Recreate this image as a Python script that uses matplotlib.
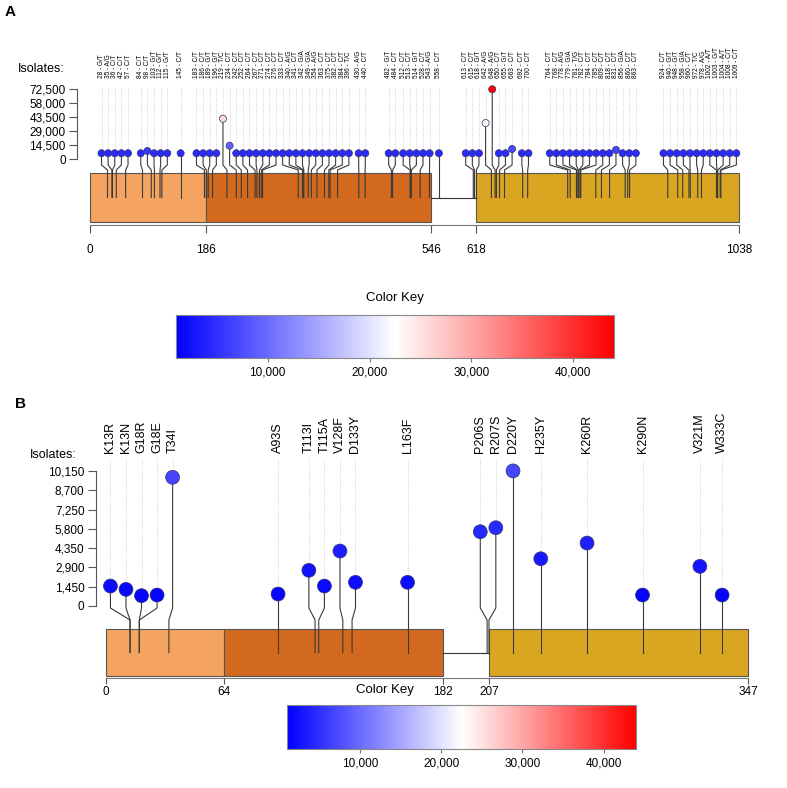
import numpy as np
import matplotlib
matplotlib.use("Agg")
import matplotlib.pyplot as plt
from matplotlib.patches import Rectangle
from matplotlib.colors import Normalize
from matplotlib.cm import ScalarMappable

plt.rcParams['font.family'] = ['Liberation Sans', 'DejaVu Sans']

# ---- panel A data (nucleotide changes) ----
a_labels = ["28 - G/T", "35 - A/G", "36 - C/T", "42 - C/T", "57 - C/T", "84 - C/T", "98 - C/T",
            "103 - G/T", "112 - G/T", "115 - G/T", "145 - C/T", "183 - C/T", "186 - C/T", "189 - G/T",
            "196 - G/T", "219 - T/C", "234 - C/T", "242 - C/T", "252 - C/T", "264 - C/T", "267 - C/T",
            "271 - C/T", "274 - C/T", "276 - C/T", "333 - C/T", "340 - A/G", "341 - C/T", "342 - G/A",
            "349 - G/A", "354 - A/G", "363 - C/T", "375 - C/T", "382 - C/T", "384 - C/T", "396 - T/C",
            "430 - A/G", "440 - C/T", "482 - G/T", "484 - C/T", "512 - C/T", "513 - C/T", "514 - G/T",
            "528 - C/T", "543 - A/G", "558 - C/T", "613 - C/T", "615 - C/T", "618 - G/T", "642 - A/G",
            "648 - A/G", "650 - C/T", "655 - G/T", "663 - C/T", "692 - C/T", "700 - C/T", "764 - C/T",
            "768 - C/T", "778 - A/G", "779 - G/A", "781 - T/G", "782 - C/T", "784 - C/T", "785 - C/T",
            "809 - C/T", "818 - C/T", "831 - C/T", "856 - G/A", "860 - C/T", "863 - C/T", "924 - C/T",
            "940 - G/T", "948 - G/T", "958 - G/A", "960 - C/T", "972 - T/C", "978 - A/G", "1002 - A/T",
            "1003 - G/T", "1004 - A/T", "1008 - C/T", "1009 - C/T"]
a_isolates = [6000, 6000, 6000, 6000, 6000, 6000, 8300, 6000, 6000, 6000,
              6000, 6000, 6000, 6000, 6000, 41900, 13800, 6000, 6000, 6000,
              6000, 6000, 6000, 6000, 6000, 6000, 6000, 6000, 6000, 6000,
              6000, 6000, 6000, 6000, 6000, 6000, 6000, 6000, 6000, 6000,
              6000, 6000, 6000, 6000, 6000, 6000, 6000, 6000, 37400, 72500,
              6000, 6000, 10400, 6000, 6000, 6000, 6000, 6000, 6000, 6000,
              6000, 6000, 6000, 6000, 6000, 9400, 6000, 6000, 6000, 6000,
              6000, 6000, 6000, 6000, 6000, 6000, 6000, 6000, 6000, 6000,
              6000]
a_domains = [(0, 186), (186, 546), (618, 1038)]
a_length = 1038
a_yticks = [0, 14500, 29000, 43500, 58000, 72500]

# ---- panel B data (amino acid changes) ----
b_labels = ["K13R", "K13N", "G18R", "G18E", "T34I", "A93S", "T113I", "T115A", "V128F", "D133Y",
            "L163F", "P206S", "R207S", "D220Y", "H235Y", "K260R", "K290N", "V321M", "W333C"]
b_isolates = [1500, 1250, 775, 825, 9670, 900, 2680, 1500, 4130, 1780,
              1780, 5580, 5880, 10150, 3550, 4730, 825, 2980, 825]
b_domains = [(0, 64), (64, 182), (207, 347)]
b_length = 347
b_yticks = [0, 1450, 2900, 4350, 5800, 7250, 8700, 10150]

domain_colors = ['#F4A460', '#D2691E', '#DAA520']
key_ticks = [10000, 20000, 30000, 40000]

W, H = 787, 788
cmap = plt.get_cmap('bwr')
dot_norm = Normalize(0, 72500)
key_norm = Normalize(1000, 44000)


def spread(pos, gap, lo, hi):
    # push overlapping dots apart, each group centred on its mean position
    blocks = [[p] for p in pos]

    def start(b):
        s = np.mean(b) - (len(b) - 1) * gap / 2
        return min(max(s, lo), hi - (len(b) - 1) * gap)

    merged = True
    while merged:
        merged = False
        for i in range(len(blocks) - 1):
            end0 = start(blocks[i]) + (len(blocks[i]) - 1) * gap
            if start(blocks[i + 1]) - end0 < gap - 1e-9:
                blocks[i] = blocks[i] + blocks.pop(i + 1)
                merged = True
                break
    out = []
    for b in blocks:
        s = start(b)
        out += [s + k * gap for k in range(len(b))]
    return np.array(out)


def panel(top, bottom, x0, xscale, y0, upp, pos, vals, labels, domains, length, yticks,
          gap, dot_s, lab_fs, g):
    # top/bottom: axes extent in px; x0: px of residue 0; xscale: px per residue
    # y0: px of zero isolates; upp: isolates per px; g: layout offsets in px
    ax = fig.add_axes([0, 1 - bottom / H, 1, (bottom - top) / H])
    ax.set_xlim(-x0 / xscale, (W - x0) / xscale)
    ax.set_ylim(-(bottom - y0) * upp, (y0 - top) * upp)
    ax.patch.set_alpha(0)

    xd = spread(pos, gap, 0, length)
    for xs, p, v, lab in zip(xd, pos, vals, labels):
        ax.plot([xs, xs, p, p], [v, -g['bend0'] * upp, -g['bend1'] * upp, -g['mid'] * upp],
                color='#3a3a3a', lw=0.8, zorder=3)
        ax.plot([xs, xs], [v, (y0 - g['guide']) * upp], ls=':', color='#c4c4c4', lw=0.6, zorder=1)
        ax.text(xs, (y0 - g['label']) * upp, lab, rotation=90, ha='center', va='bottom',
                fontsize=lab_fs)
    ax.scatter(xd, vals, s=dot_s, c=cmap(dot_norm(np.array(vals))), edgecolors='#333366',
               linewidths=0.5, zorder=5)

    for (s, e), c in zip(domains, domain_colors):
        ax.add_patch(Rectangle((s, -g['box_bot'] * upp), e - s, (g['box_bot'] - g['box_top']) * upp,
                               fc=c, ec='#555555', lw=0.8, zorder=2))
    for (s0, e0), (s1, e1) in zip(domains[:-1], domains[1:]):
        if s1 > e0:
            ax.plot([e0, s1], [-g['mid'] * upp] * 2, color='#333333', lw=0.8, zorder=2)

    for side in ['top', 'right']:
        ax.spines[side].set_visible(False)
    ax.spines['left'].set_position(('data', g['yaxis']))
    ax.spines['left'].set_bounds(0, yticks[-1])
    ax.spines['left'].set_color('#555555')
    ax.set_yticks(yticks)
    ax.set_yticklabels([f"{t:,}" for t in yticks])
    ax.tick_params(axis='y', length=6, width=0.8, color='#555555', pad=g['ypad'], labelsize=8.5)

    ticks = sorted(set([d for dom in domains for d in dom]))
    ax.spines['bottom'].set_position(('data', -g['xaxis'] * upp))
    ax.spines['bottom'].set_bounds(0, length)
    ax.spines['bottom'].set_color('#777777')
    ax.set_xticks(ticks)
    ax.set_xticklabels([str(t) for t in ticks])
    ax.tick_params(axis='x', length=g['xtick'], width=0.8, color='#555555', pad=g['xpad'],
                   labelsize=8.5)

    ax.text(g['iso_x'], (y0 - g['iso_y']) * upp, 'Isolates:', ha='right', va='center', fontsize=9)
    return ax


def color_key(left, top, width, height, title_x, title_y):
    cax = fig.add_axes([left / W, 1 - (top + height) / H, width / W, height / H])
    cb = fig.colorbar(ScalarMappable(key_norm, cmap), cax=cax, orientation='horizontal')
    cb.set_ticks(key_ticks)
    cb.set_ticklabels([f"{t:,}" for t in key_ticks])
    cb.outline.set_edgecolor('#888888')
    cb.outline.set_linewidth(0.8)
    cax.tick_params(length=3, width=0.8, color='#777777', labelsize=8.5, pad=3)
    fig.text(title_x / W, 1 - title_y / H, 'Color Key', ha='center', va='center', fontsize=9.5)


fig = plt.figure(figsize=(W / 100, H / 100), dpi=100)

a_pos = [int(s.split(' - ')[0]) for s in a_labels]
panel(0, 270, 90, 649 / 1038, 159, 72500 / 69.7, a_pos, a_isolates, a_labels, a_domains,
      a_length, a_yticks, gap=10.6, dot_s=26, lab_fs=4.7,
      g=dict(bend0=6, bend1=11, mid=38.5, box_top=14, box_bot=63, xaxis=66, xtick=6, xpad=8,
             yaxis=-21, ypad=2, guide=87, label=78, iso_x=-40, iso_y=69))

b_pos = [int(s[1:-1]) for s in b_labels]
panel(395, 700, 106, 642 / 347, 606, 1450 / 19.3, b_pos, b_isolates, b_labels, b_domains,
      b_length, b_yticks, gap=8.4, dot_s=100, lab_fs=9,
      g=dict(bend0=2, bend1=14, mid=46.5, box_top=23, box_bot=70, xaxis=72, xtick=4, xpad=2,
             yaxis=-5.6, ypad=2, guide=458, label=453, iso_x=-15.7, iso_y=455))

color_key(176, 315, 438, 43, 395, 298)
color_key(287, 705, 349, 44, 385, 690)

fig.text(5 / W, 1 - 12 / H, 'A', fontsize=11, fontweight='bold', va='center')
fig.text(15 / W, 1 - 404 / H, 'B', fontsize=11, fontweight='bold', va='center')

fig.savefig('out.png', dpi=100)
